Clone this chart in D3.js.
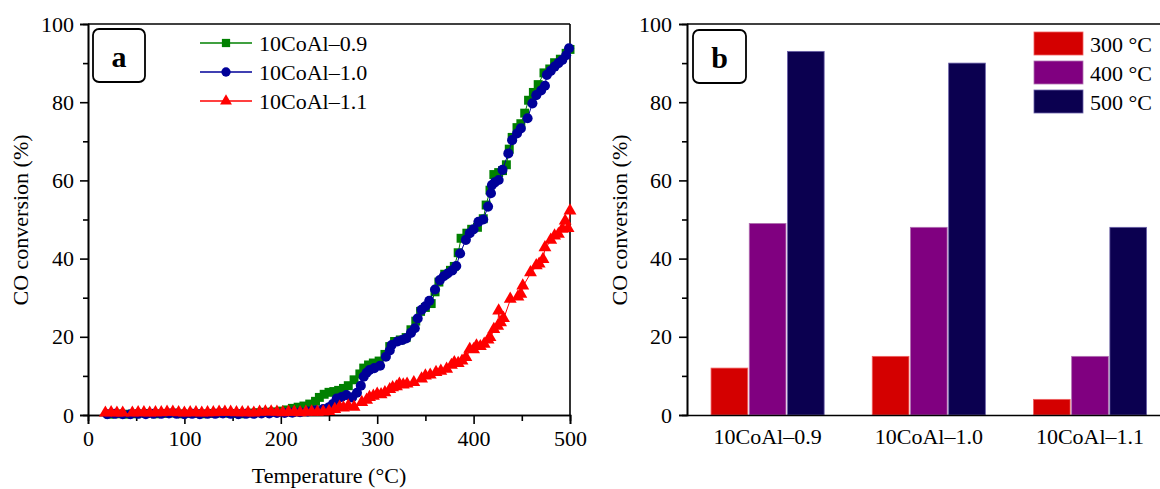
<!DOCTYPE html>
<html>
<head>
<meta charset="utf-8">
<script src="https://cdn.jsdelivr.net/npm/d3@7"></script>
<style>
  html, body { margin: 0; padding: 0; background: #fff; }
  svg { display: block; font-family: "Liberation Serif", "Times New Roman", serif; }
</style>
</head>
<body>
<svg id="chart" width="1160" height="489"></svg>
<script>
// ---------- Data ----------
const tempTicks = [0, 100, 200, 300, 400, 500];
const tempMinorTicks = [50, 150, 250, 350, 450];
const convTicks = [0, 20, 40, 60, 80, 100];
const convMinorTicks = [10, 30, 50, 70, 90];

const seriesNames = ["10CoAl\u20130.9", "10CoAl\u20131.0", "10CoAl\u20131.1"];

// [temperature °C, CO conversion %]
const series09 = [[22,0.2],[30,0.3],[40,0.2],[50,0.3],[60,0.4],[70,0.3],[80,0.4],[90,0.5],[98,0.3],[108,0.4],[118,0.3],[128,0.4],[138,0.5],[148,0.4],[158,0.3],[168,0.5],[176,0.6],[184,0.7],[192,0.8],[200,1.0],[206,1.3],[212,1.7],[218,2.0],[224,2.3],[230,2.8],[236,3.5],[240,4.5],[245,5.3],[250,5.8],[255,6.0],[260,6.3],[265,6.8],[270,7.5],[276,9.0],[282,10.5],[286,12.0],[291,12.8],[296,13.3],[302,13.8],[308,15.5],[313,17.5],[318,18.8],[324,19.2],[330,19.8],[335,21.8],[340,24.0],[345,26.5],[350,27.5],[356,28.5],[360,31.5],[364,34.0],[370,36.0],[376,37.0],[380,38.0],[384,41.5],[387,45.2],[393,46.5],[398,47.5],[404,48.0],[410,50.2],[413,53.7],[417,57.5],[421,61.5],[426,62.0],[430,62.5],[434,64.0],[437,68.0],[440,71.0],[445,73.5],[449,74.5],[453,77.2],[457,80.5],[462,82.5],[467,84.5],[473,87.5],[479,88.5],[484,90.1],[490,91.0],[496,92.5],[500,93.5]];

const series10 = [[20,0.2],[28,0.3],[36,0.2],[44,0.2],[52,0.3],[60,0.2],[68,0.3],[76,0.3],[84,0.4],[92,0.3],[100,0.2],[108,0.3],[116,0.2],[124,0.3],[132,0.3],[140,0.4],[148,0.3],[156,0.2],[164,0.3],[172,0.3],[180,0.4],[188,0.4],[196,0.5],[204,0.5],[212,0.6],[220,0.7],[228,0.9],[236,1.2],[244,1.5],[250,2.0],[254,2.8],[258,4.2],[263,4.6],[268,5.1],[274,4.5],[279,5.7],[283,7.5],[286,9.8],[289,10.8],[292,11.5],[297,12.0],[303,12.6],[309,14.9],[313,16.5],[315,17.9],[321,18.8],[326,19.2],[330,19.6],[335,21.0],[339,22.2],[342,24.7],[346,26.9],[350,27.8],[354,29.2],[360,32.1],[365,34.5],[369,35.5],[373,36.2],[378,37.0],[382,38.1],[386,41.3],[392,44.8],[396,46.5],[400,47.5],[405,49.4],[410,50.0],[415,53.3],[418,56.7],[419,58.8],[422,59.5],[426,60.1],[430,62.7],[436,66.9],[440,70.3],[445,72.0],[449,73.3],[456,75.9],[461,79.7],[465,81.8],[470,83.0],[474,84.2],[476,87.0],[480,88.0],[484,89.1],[488,90.0],[492,90.8],[496,92.0],[499,93.8]];

const series11 = [[18,0.3],[24,0.4],[30,0.3],[36,0.3],[46,0.3],[52,0.4],[58,0.4],[64,0.3],[70,0.4],[76,0.4],[82,0.5],[88,0.5],[94,0.4],[100,0.3],[106,0.4],[112,0.4],[118,0.3],[124,0.4],[130,0.4],[136,0.5],[142,0.5],[148,0.5],[154,0.4],[160,0.4],[166,0.4],[172,0.3],[178,0.5],[184,0.6],[190,0.6],[196,0.5],[202,0.4],[208,0.5],[214,0.5],[220,0.4],[226,0.5],[232,0.6],[238,0.5],[244,0.6],[250,0.7],[256,1.2],[261,1.8],[265,1.6],[270,2.1],[276,1.8],[284,3.0],[289,3.6],[292,4.3],[296,4.6],[300,5.1],[304,5.0],[308,5.5],[313,6.3],[316,6.8],[320,7.0],[323,7.7],[327,7.5],[331,7.7],[338,8.1],[346,9.0],[350,9.8],[355,10.0],[361,10.7],[366,11.0],[372,11.5],[377,12.5],[380,13.2],[384,13.0],[388,13.6],[392,14.5],[396,16.6],[400,16.5],[403,17.5],[407,17.3],[411,17.9],[415,19.0],[417,19.6],[421,21.7],[425,22.5],[426,26.4],[428,23.4],[431,24.5],[438,29.4],[446,30.0],[449,30.7],[451,32.8],[459,36.2],[465,38.0],[468,38.4],[472,39.6],[474,42.6],[480,44.5],[484,45.6],[488,46.0],[492,47.3],[495,49.4],[498,47.5],[500,52.0]];

const categories = ["10CoAl\u20130.9", "10CoAl\u20131.0", "10CoAl\u20131.1"];
const barTemps = ["300 \u00B0C", "400 \u00B0C", "500 \u00B0C"];
const conv300 = [12, 15, 4];
const conv400 = [49, 48, 15];
const conv500 = [93, 90, 48];

// ---------- Setup ----------
const svg = d3.select("#chart");
const FONT = 22;
const AXW = 1.6;

// ---------- Panel a ----------
const xA = d3.scaleLinear().domain([0, 500]).range([88, 570]);
const yA = d3.scaleLinear().domain([0, 100]).range([415, 24]);

const gA = svg.append("g");

function styleAxis(g) {
  g.selectAll(".domain").attr("stroke", "#000").attr("stroke-width", AXW);
  g.selectAll(".tick line").attr("stroke", "#000").attr("stroke-width", AXW);
  g.selectAll(".tick text").attr("font-size", FONT).attr("fill", "#000")
    .attr("font-family", "Liberation Serif, Times New Roman, serif");
}

// frame (top and right)
gA.append("line").attr("x1", xA(0)).attr("x2", xA(500)).attr("y1", yA(100)).attr("y2", yA(100))
  .attr("stroke", "#000").attr("stroke-width", AXW);
gA.append("line").attr("x1", xA(500)).attr("x2", xA(500)).attr("y1", yA(100)).attr("y2", yA(0))
  .attr("stroke", "#000").attr("stroke-width", AXW);

// minor ticks
gA.append("g").attr("transform", `translate(0,${yA(0)})`)
  .call(d3.axisBottom(xA).tickValues(tempMinorTicks).tickSize(6).tickFormat(""))
  .call(styleAxis);
gA.append("g").attr("transform", `translate(${xA(0)},0)`)
  .call(d3.axisLeft(yA).tickValues(convMinorTicks).tickSize(5).tickFormat(""))
  .call(styleAxis);
// major ticks
gA.append("g").attr("transform", `translate(0,${yA(0)})`)
  .call(d3.axisBottom(xA).tickValues(tempTicks).tickSize(9).tickPadding(6).tickFormat(d3.format("d")))
  .call(styleAxis);
gA.append("g").attr("transform", `translate(${xA(0)},0)`)
  .call(d3.axisLeft(yA).tickValues(convTicks).tickSize(8).tickPadding(6).tickFormat(d3.format("d")))
  .call(styleAxis);

// axis titles
gA.append("text").attr("x", 329).attr("y", 483).attr("text-anchor", "middle")
  .attr("font-size", FONT).text("Temperature (\u00B0C)");
gA.append("text").attr("transform", "translate(20,220) rotate(-90)").attr("text-anchor", "middle")
  .attr("dy", "0.35em").attr("font-size", FONT).text("CO conversion (%)");

// series
const seriesDefs = [
  { name: seriesNames[0], data: series09, color: "#008000", shape: d3.symbolSquare, size: 80 },
  { name: seriesNames[1], data: series10, color: "#000099", shape: d3.symbolCircle, size: 80 },
  { name: seriesNames[2], data: series11, color: "#ff0000", shape: d3.symbolTriangle, size: 72 }
];

const lineGen = d3.line().x(d => xA(d[0])).y(d => yA(d[1]));

seriesDefs.forEach(s => {
  const g = gA.append("g");
  g.append("path").datum(s.data).attr("d", lineGen).attr("fill", "none")
    .attr("stroke", s.color).attr("stroke-width", 1);
  g.selectAll("path.pt").data(s.data).join("path").attr("class", "pt")
    .attr("transform", d => `translate(${xA(d[0])},${yA(d[1]) - (s.shape === d3.symbolTriangle ? 1 : 0)})`)
    .attr("d", d3.symbol().type(s.shape).size(s.size)())
    .attr("fill", s.color);
});

// legend a
const legA = gA.append("g");
seriesDefs.forEach((s, i) => {
  const y = 43 + i * 29;
  legA.append("line").attr("x1", 200).attr("x2", 252).attr("y1", y).attr("y2", y)
    .attr("stroke", s.color).attr("stroke-width", 1.6);
  legA.append("path").attr("transform", `translate(226,${y})`)
    .attr("d", d3.symbol().type(s.shape).size(s.size * 0.85)()).attr("fill", s.color);
  legA.append("text").attr("x", 259).attr("y", y).attr("dy", "0.35em")
    .attr("font-size", FONT).text(s.name);
});

// label box a
gA.append("rect").attr("x", 93).attr("y", 29).attr("width", 52).attr("height", 53)
  .attr("rx", 6).attr("fill", "#fff").attr("stroke", "#000").attr("stroke-width", 1.8);
gA.append("text").attr("x", 119).attr("y", 56).attr("dy", "0.35em").attr("text-anchor", "middle")
  .attr("font-size", 30).attr("font-weight", "bold").text("a");

// ---------- Panel b ----------
const yB = d3.scaleLinear().domain([0, 100]).range([415, 24]);
const x0 = d3.scaleBand().domain(categories).range([687, 1170.6]).padding(0);
const groupW = 113.1;
const x1 = d3.scaleBand().domain(barTemps).range([0, groupW]).paddingInner(0.04).paddingOuter(0);
const barColors = ["#d40000", "#800080", "#0b0050"];
const barStrokes = ["#f06060", "#b070b0", "#6a60a8"];
const barValues = [conv300, conv400, conv500];

const gB = svg.append("g");

gB.append("line").attr("x1", 687).attr("x2", 1160).attr("y1", yB(100)).attr("y2", yB(100))
  .attr("stroke", "#000").attr("stroke-width", AXW);

const barRows = [];
categories.forEach((c, ci) => {
  barTemps.forEach((t, ti) => {
    barRows.push({ cat: c, temp: t, ti: ti, value: barValues[ti][ci] });
  });
});

gB.selectAll("rect.bar").data(barRows).join("rect").attr("class", "bar")
  .attr("x", d => x0(d.cat) + (x0.bandwidth() - groupW) / 2 + x1(d.temp))
  .attr("width", x1.bandwidth())
  .attr("y", d => yB(d.value))
  .attr("height", d => yB(0) - yB(d.value))
  .attr("fill", d => barColors[d.ti])
  .attr("stroke", d => barStrokes[d.ti]).attr("stroke-width", 0.8);

// axes b
gB.append("g").attr("transform", `translate(687,0)`)
  .call(d3.axisLeft(yB).tickValues(convMinorTicks).tickSize(5).tickFormat(""))
  .call(styleAxis);
gB.append("g").attr("transform", `translate(687,0)`)
  .call(d3.axisLeft(yB).tickValues(convTicks).tickSize(8).tickPadding(7).tickFormat(d3.format("d")))
  .call(styleAxis);
gB.append("g").attr("transform", `translate(0,${yB(0)})`)
  .call(d3.axisBottom(x0).tickSize(0).tickPadding(13))
  .call(styleAxis);

gB.append("text").attr("transform", "translate(619,220) rotate(-90)").attr("text-anchor", "middle")
  .attr("dy", "0.35em").attr("font-size", FONT).text("CO conversion (%)");

// legend b
barTemps.forEach((t, i) => {
  const y = 32 + i * 29;
  gB.append("rect").attr("x", 1034).attr("y", y).attr("width", 49).attr("height", 23)
    .attr("fill", barColors[i]).attr("stroke", barStrokes[i]).attr("stroke-width", 0.8);
  gB.append("text").attr("x", 1090).attr("y", y + 12).attr("dy", "0.35em")
    .attr("font-size", FONT).text(t);
});

// label box b
gB.append("rect").attr("x", 693).attr("y", 30).attr("width", 53).attr("height", 53)
  .attr("rx", 6).attr("fill", "#fff").attr("stroke", "#000").attr("stroke-width", 1.8);
gB.append("text").attr("x", 719.5).attr("y", 57).attr("dy", "0.35em").attr("text-anchor", "middle")
  .attr("font-size", 30).attr("font-weight", "bold").text("b");
</script>
</body>
</html>
